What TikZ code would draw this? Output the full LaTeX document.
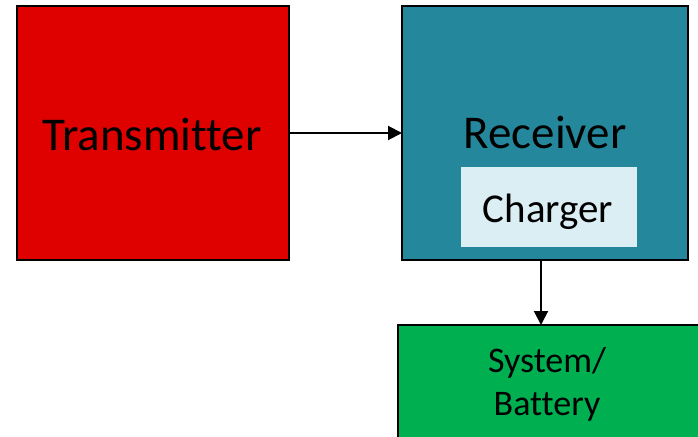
\documentclass[tikz,border=0pt]{standalone}
\usepackage{fontspec}
\setmainfont[Ligatures=NoCommon]{Carlito}
\usetikzlibrary{arrows.meta}
\definecolor{txred}{RGB}{223,0,0}
\definecolor{rxteal}{RGB}{37,135,155}
\definecolor{chglight}{RGB}{218,238,243}
\definecolor{batgreen}{RGB}{0,176,80}
\begin{document}
\begin{tikzpicture}[x=1pt,y=-1pt,
    block/.style={draw=black,line width=2pt,inner sep=0pt,outer sep=0pt},
    flow/.style={line width=2pt,-{Triangle[length=14pt,width=14pt]}}]
         \useasboundingbox (0,0) rectangle (698,436) ;
         % boxes
         \node[block,fill=txred,minimum width=272pt,minimum height=254pt] (tx) at (153,133) {} ;
         \node[block,fill=rxteal,minimum width=286pt,minimum height=254pt] (rx) at (545,133) {} ;
         \node[fill=chglight,inner sep=0pt,minimum width=176pt,minimum height=80pt] (chg) at (549,207) {} ;
         \node[block,fill=batgreen,minimum width=322pt,minimum height=135pt] (bat) at (559,392.5) {} ;
         % texts
         \node[anchor=base,inner sep=0pt,font=\fontsize{47}{56}\selectfont] (txlabel) at (152,150) {Transmitter} ;
         \node[anchor=base,inner sep=0pt,font=\fontsize{47}{56}\selectfont] (rxlabel) at (545,148) {Receiver} ;
         \node[anchor=base,inner sep=0pt,font=\fontsize{41}{49}\selectfont] (chglabel) at (548,222) {Charger} ;
         \node[align=center,inner sep=0pt,font=\fontsize{36}{43}\selectfont] (batlabel) at (547,384) {System/\\Battery} ;
         % connectors
         \draw[flow] (tx.east) -- (rx.west) ;
         \draw[flow] ([xshift=-4pt]rx.south) -- ([xshift=-4pt]rx.south |- bat.north) ;
      \end{tikzpicture}
\end{document}
